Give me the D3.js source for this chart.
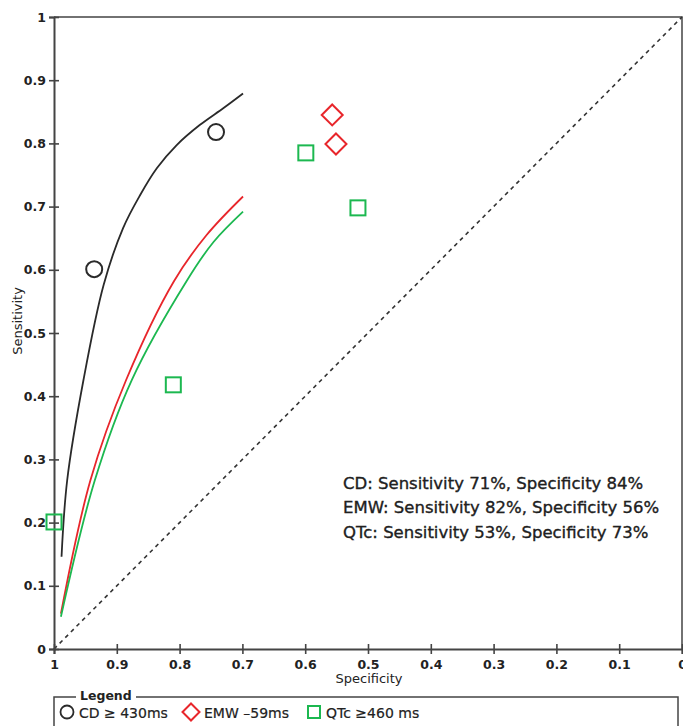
<!DOCTYPE html>
<html>
<head>
<meta charset="utf-8">
<script src="https://cdn.jsdelivr.net/npm/d3@7"></script>
<style>
  html, body { margin: 0; padding: 0; background: #fff; }
  svg { display: block; }
  text { font-family: "DejaVu Sans", sans-serif; fill: #222; }
</style>
</head>
<body>
<svg id="chart" width="683" height="726"></svg>
<script>
// ---- data ----
const xTicks = [1, 0.9, 0.8, 0.7, 0.6, 0.5, 0.4, 0.3, 0.2, 0.1, 0];
const yTicks = [0, 0.1, 0.2, 0.3, 0.4, 0.5, 0.6, 0.7, 0.8, 0.9, 1];

// study points [specificity, sensitivity]
const cdPoints  = [[0.936, 0.601], [0.742, 0.818]];
const emwPoints = [[0.557, 0.845], [0.551, 0.799]];
const qtcPoints = [[1.0, 0.201], [0.81, 0.418], [0.599, 0.785], [0.516, 0.698]];

// SROC curves [specificity, sensitivity]
const cdCurve  = [[0.988, 0.146], [0.979, 0.267], [0.953, 0.426], [0.921, 0.576], [0.890, 0.666], [0.863, 0.718], [0.836, 0.761], [0.805, 0.797], [0.768, 0.829], [0.730, 0.856], [0.699, 0.879]];
const emwCurve = [[0.989, 0.056], [0.942, 0.267], [0.885, 0.426], [0.809, 0.582], [0.757, 0.655], [0.699, 0.716]];
const qtcCurve = [[0.989, 0.051], [0.935, 0.267], [0.876, 0.426], [0.789, 0.582], [0.746, 0.644], [0.699, 0.692]];

const summaryLines = [
  "CD: Sensitivity 71%, Specificity 84%",
  "EMW: Sensitivity 82%, Specificity 56%",
  "QTc: Sensitivity 53%, Specificity 73%"
];
const legendLabels = ["CD \u2265 430ms", "EMW \u201359ms", "QTc \u2265460 ms"];

// ---- drawing ----
const C_BLACK = "#2a2a2a", C_RED = "#e8262b", C_GREEN = "#1cb850";
const svg = d3.select("#chart");
const x = d3.scaleLinear().domain([1, 0]).range([54, 682]);
const y = d3.scaleLinear().domain([0, 1]).range([649, 17]);
const fmt = d => (d === 0 || d === 1) ? String(d) : d.toFixed(1);

// frame (top & right)
svg.append("path")
  .attr("d", `M${x(1)},${y(1)}H${x(0)}V${y(0)}`)
  .attr("fill", "none").attr("stroke", "#444").attr("stroke-width", 1.5);

// diagonal
svg.append("line")
  .attr("x1", x(1)).attr("y1", y(0)).attr("x2", x(0)).attr("y2", y(1))
  .attr("stroke", "#333").attr("stroke-width", 1.6).attr("stroke-dasharray", "4,4");

// axes
const xAxis = svg.append("g").attr("transform", `translate(0,${y(0)})`)
  .call(d3.axisBottom(x).tickValues(xTicks).tickFormat(fmt).tickSize(5).tickPadding(4));
xAxis.selectAll(".tick line").attr("y1", -5).attr("y2", 5);
const yAxis = svg.append("g").attr("transform", `translate(${x(1)},0)`)
  .call(d3.axisLeft(y).tickValues(yTicks).tickFormat(fmt).tickSize(5).tickPadding(3));
yAxis.selectAll(".tick line").attr("x1", -5).attr("x2", 5);
[xAxis, yAxis].forEach(a => {
  a.select(".domain").attr("stroke", "#444").attr("stroke-width", 2);
  a.selectAll(".tick line").attr("stroke", "#444").attr("stroke-width", 1.6);
  a.selectAll(".tick text").attr("font-family", "DejaVu Sans").attr("font-size", 12.5)
    .attr("font-weight", "bold").attr("fill", "#333");
});
xAxis.selectAll(".tick text").attr("dy", "0.9em");

svg.append("text").attr("x", 369).attr("y", 683).attr("text-anchor", "middle")
  .attr("font-size", 13).text("Specificity");
svg.append("text").attr("transform", `translate(22,321) rotate(-90)`).attr("text-anchor", "middle")
  .attr("font-size", 13).text("Sensitivity");

// curves
const line = d3.line().x(d => x(d[0])).y(d => y(d[1])).curve(d3.curveCatmullRom.alpha(0.5));
[[cdCurve, C_BLACK], [emwCurve, C_RED], [qtcCurve, C_GREEN]].forEach(([data, col]) => {
  svg.append("path").datum(data).attr("d", line)
    .attr("fill", "none").attr("stroke", col).attr("stroke-width", 1.8);
});

// points
svg.selectAll(".cd").data(cdPoints).join("circle")
  .attr("cx", d => x(d[0])).attr("cy", d => y(d[1])).attr("r", 8)
  .attr("fill", "none").attr("stroke", C_BLACK).attr("stroke-width", 2);
svg.selectAll(".emw").data(emwPoints).join("path")
  .attr("transform", d => `translate(${x(d[0])},${y(d[1])})`)
  .attr("d", "M0,-10.5L10.5,0L0,10.5L-10.5,0Z")
  .attr("fill", "none").attr("stroke", C_RED).attr("stroke-width", 2);
svg.selectAll(".qtc").data(qtcPoints).join("rect")
  .attr("x", d => x(d[0]) - 7.5).attr("y", d => y(d[1]) - 7.5)
  .attr("width", 15).attr("height", 15)
  .attr("fill", "none").attr("stroke", C_GREEN).attr("stroke-width", 2);

// summary text
svg.selectAll(".summary").data(summaryLines).join("text")
  .attr("x", 343).attr("y", (d, i) => 489 + i * 24.3)
  .attr("font-size", 16.5).attr("fill", "#1a1a1a")
  .attr("stroke", "#1a1a1a").attr("stroke-width", 0.35).text(d => d);

// legend
svg.append("rect").attr("x", 54).attr("y", 697).attr("width", 624).attr("height", 60)
  .attr("fill", "none").attr("stroke", "#444").attr("stroke-width", 1.5);
svg.append("rect").attr("x", 76).attr("y", 688).attr("width", 60).attr("height", 14).attr("fill", "#fff");
svg.append("text").attr("x", 80).attr("y", 700).attr("font-size", 12.5).attr("font-weight", "bold")
  .attr("fill", "#333").text("Legend");

const ly = 712;
svg.append("circle").attr("cx", 67).attr("cy", ly).attr("r", 6.5)
  .attr("fill", "none").attr("stroke", C_BLACK).attr("stroke-width", 1.8);
svg.append("path").attr("transform", `translate(191,${ly})`).attr("d", "M0,-8.5L8.5,0L0,8.5L-8.5,0Z")
  .attr("fill", "none").attr("stroke", C_RED).attr("stroke-width", 2);
svg.append("rect").attr("x", 308).attr("y", ly - 6).attr("width", 12).attr("height", 12)
  .attr("fill", "none").attr("stroke", C_GREEN).attr("stroke-width", 2);
const lx = [79, 204, 326];
legendLabels.forEach((t, i) => {
  svg.append("text").attr("x", lx[i]).attr("y", ly + 5.5).attr("font-size", 14).attr("fill", "#222")
    .attr("stroke", "#222").attr("stroke-width", 0.2).text(t);
});
</script>
</body>
</html>
